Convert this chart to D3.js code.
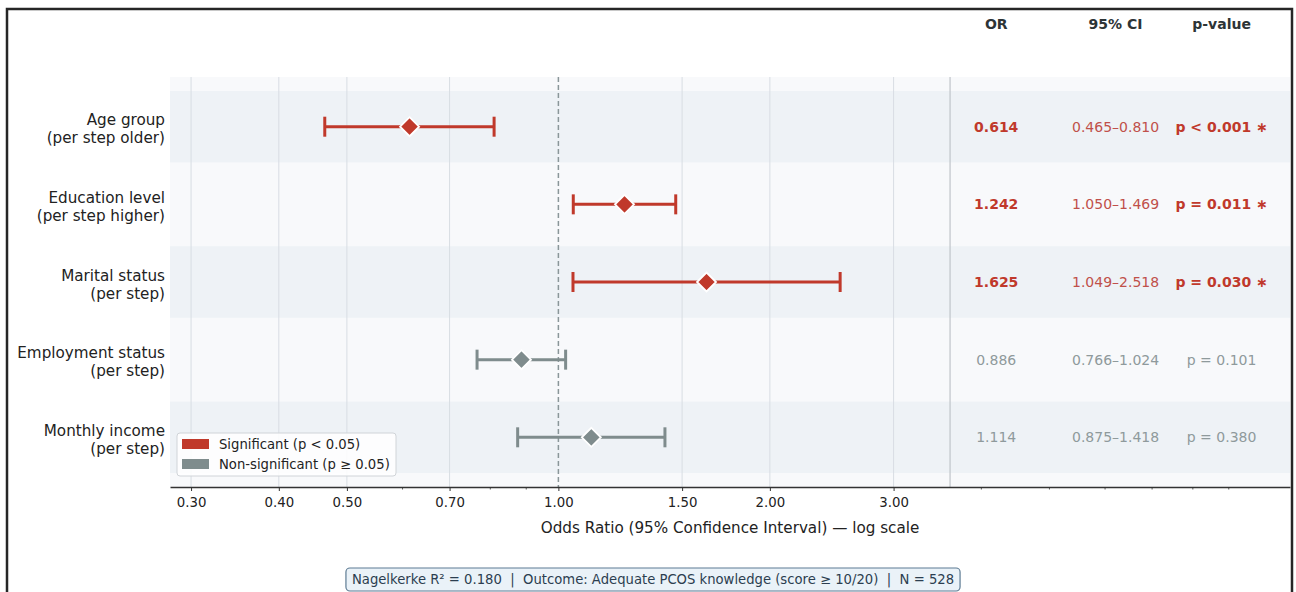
<!DOCTYPE html>
<html>
<head>
<meta charset="utf-8">
<script src="https://cdn.jsdelivr.net/npm/d3@7"></script>
<style>
  body { margin: 0; background: #fff; }
  svg { display: block; font-family: "DejaVu Sans", sans-serif; }
</style>
</head>
<body>
<svg id="chart" width="1296" height="592"></svg>
<script>
// Data
const labels = [
  ["Age group", "(per step older)"],
  ["Education level", "(per step higher)"],
  ["Marital status", "(per step)"],
  ["Employment status", "(per step)"],
  ["Monthly income", "(per step)"]
];
const oddsRatios = [0.614, 1.242, 1.625, 0.886, 1.114];
const ciLow = [0.465, 1.050, 1.049, 0.766, 0.875];
const ciHigh = [0.810, 1.469, 2.518, 1.024, 1.418];
const pValues = [0.0005, 0.011, 0.030, 0.101, 0.380];
const pText = ["p < 0.001 \u2217", "p = 0.011 \u2217", "p = 0.030 \u2217", "p = 0.101", "p = 0.380"];
const majorTicks = [0.3, 0.4, 0.5, 0.7, 1.0, 1.5, 2.0, 3.0];
const minorTicks = [0.6, 0.8, 0.9, 4, 5, 6, 7, 8, 9];
const noteText = "Nagelkerke R\u00b2 = 0.180  |  Outcome: Adequate PCOS knowledge (score \u2265 10/20)  |  N = 528";

// Colors
const sigColor = "#c0392b";
const nsColor = "#7f8c8d";
const getColor = (p) => p < 0.05 ? sigColor : nsColor;

const svg = d3.select("#chart");

// outer frame
svg.append("rect")
  .attr("x", 7).attr("y", 9)
  .attr("width", 1285).attr("height", 640)
  .attr("fill", "none")
  .attr("stroke", "#262626")
  .attr("stroke-width", 2.5);

// Scales
const x = d3.scaleLog().domain([0.28, 11]).range([170, 1290]);
const y = d3.scaleLinear().domain([-0.64, 4.64]).range([77, 487]);
const rows = d3.range(labels.length);

// table column positions (in odds-ratio units, right of the plot)
const sepAt = 3.61, colOR = 4.2, colCI = 6.21, colP = 8.79;

// axes background
svg.append("rect")
  .attr("x", x.range()[0]).attr("y", y(-0.64))
  .attr("width", x.range()[1] - x.range()[0])
  .attr("height", y(4.64) - y(-0.64))
  .attr("fill", "#f8f9fb");

// alternating row bands
svg.append("g")
  .selectAll("rect")
  .data(rows.filter(i => i % 2 === 0))
  .join("rect")
  .attr("x", x.range()[0])
  .attr("width", x.range()[1] - x.range()[0])
  .attr("y", i => y(i - 0.46))
  .attr("height", y(0.92) - y(0))
  .attr("fill", "#eef2f6");

// grid lines on major ticks
svg.append("g")
  .selectAll("line")
  .data(majorTicks.filter(t => t !== 1))
  .join("line")
  .attr("x1", d => x(d)).attr("x2", d => x(d))
  .attr("y1", y(-0.64)).attr("y2", y(4.64))
  .attr("stroke", "#d8dde3")
  .attr("stroke-width", 1);

// separator between plot and table
svg.append("line")
  .attr("x1", x(sepAt)).attr("x2", x(sepAt))
  .attr("y1", y(-0.64)).attr("y2", y(4.64))
  .attr("stroke", "#bfc4c9")
  .attr("stroke-width", 1.2);

// reference line at OR = 1
svg.append("line")
  .attr("x1", x(1)).attr("x2", x(1))
  .attr("y1", y(-0.64)).attr("y2", y(4.64))
  .attr("stroke", "#8a9699")
  .attr("stroke-width", 1.5)
  .attr("stroke-dasharray", "5,3");

// x axis
const axisY = y(4.64);
const xAxis = svg.append("g")
  .attr("transform", `translate(0,${axisY})`)
  .call(d3.axisBottom(x).tickValues(majorTicks).tickFormat(d3.format(".2f")).tickSize(4).tickSizeOuter(0));
xAxis.select(".domain").attr("stroke", "#333").attr("stroke-width", 1.3);
xAxis.selectAll(".tick line").attr("stroke", "#333");
xAxis.selectAll(".tick text")
  .attr("font-size", "13.3px")
  .attr("font-family", "DejaVu Sans")
  .attr("fill", "#222")
  .attr("dy", "0.95em");

svg.append("g")
  .selectAll("line")
  .data(minorTicks)
  .join("line")
  .attr("x1", d => x(d)).attr("x2", d => x(d))
  .attr("y1", axisY).attr("y2", axisY + 2.5)
  .attr("stroke", "#333")
  .attr("stroke-width", 0.8);

svg.append("text")
  .attr("x", (x.range()[0] + x.range()[1]) / 2)
  .attr("y", 533)
  .attr("text-anchor", "middle")
  .attr("font-size", "15.2px")
  .attr("fill", "#222")
  .text("Odds Ratio (95% Confidence Interval) \u2014 log scale");

// y labels
const yLabel = svg.append("g")
  .selectAll("text")
  .data(rows)
  .join("text")
  .attr("text-anchor", "end")
  .attr("font-size", "15.2px")
  .attr("fill", "#222");
yLabel.append("tspan")
  .attr("x", 165).attr("y", i => y(i) - 1.5)
  .text(i => labels[i][0]);
yLabel.append("tspan")
  .attr("x", 165).attr("y", i => y(i) + 16.5)
  .text(i => labels[i][1]);

// CI lines and caps
const ci = svg.append("g");
ci.selectAll("line.ci")
  .data(rows)
  .join("line")
  .attr("class", "ci")
  .attr("x1", i => x(ciLow[i])).attr("x2", i => x(ciHigh[i]))
  .attr("y1", i => y(i)).attr("y2", i => y(i))
  .attr("stroke", i => getColor(pValues[i]))
  .attr("stroke-width", 3);
ci.selectAll("line.cap")
  .data(rows.flatMap(i => [[i, ciLow[i]], [i, ciHigh[i]]]))
  .join("line")
  .attr("class", "cap")
  .attr("x1", d => x(d[1])).attr("x2", d => x(d[1]))
  .attr("y1", d => y(d[0]) - 10).attr("y2", d => y(d[0]) + 10)
  .attr("stroke", d => getColor(pValues[d[0]]))
  .attr("stroke-width", 3);

// diamonds
svg.append("g")
  .selectAll("path")
  .data(rows)
  .join("path")
  .attr("transform", i => `translate(${x(oddsRatios[i])},${y(i)})`)
  .attr("d", "M0,-9.5L9.5,0L0,9.5L-9.5,0Z")
  .attr("fill", i => getColor(pValues[i]))
  .attr("stroke", "white")
  .attr("stroke-width", 1.8);

// table headers
svg.append("g")
  .selectAll("text")
  .data([[colOR, "OR"], [colCI, "95% CI"], [colP, "p-value"]])
  .join("text")
  .attr("x", d => x(d[0]))
  .attr("y", 29)
  .attr("text-anchor", "middle")
  .attr("font-size", "14px")
  .attr("font-weight", "bold")
  .attr("fill", "#2d3436")
  .text(d => d[1]);

// table rows
const table = svg.append("g").attr("text-anchor", "middle").attr("font-size", "14px");
table.selectAll("text.or")
  .data(rows)
  .join("text")
  .attr("class", "or")
  .attr("x", x(colOR)).attr("y", i => y(i) + 5)
  .attr("font-weight", i => pValues[i] < 0.05 ? "bold" : "normal")
  .attr("fill", i => pValues[i] < 0.05 ? sigColor : "#8f9a9c")
  .text(i => oddsRatios[i].toFixed(3));
table.selectAll("text.ci")
  .data(rows)
  .join("text")
  .attr("class", "ci")
  .attr("x", x(colCI)).attr("y", i => y(i) + 5)
  .attr("fill", i => pValues[i] < 0.05 ? "#c0504a" : "#8f9a9c")
  .text(i => `${ciLow[i].toFixed(3)}\u2013${ciHigh[i].toFixed(3)}`);
table.selectAll("text.p")
  .data(rows)
  .join("text")
  .attr("class", "p")
  .attr("x", x(colP)).attr("y", i => y(i) + 5)
  .attr("font-weight", i => pValues[i] < 0.05 ? "bold" : "normal")
  .attr("fill", i => pValues[i] < 0.05 ? sigColor : "#8f9a9c")
  .text(i => pText[i]);

// legend
const legend = svg.append("g").attr("transform", "translate(177,433)");
legend.append("rect")
  .attr("width", 219).attr("height", 43)
  .attr("rx", 3)
  .attr("fill", "white").attr("fill-opacity", 0.85)
  .attr("stroke", "#d0d4d8");
const legendItems = [[sigColor, "Significant (p < 0.05)"], [nsColor, "Non-significant (p \u2265 0.05)"]];
legend.selectAll("rect.sw")
  .data(legendItems)
  .join("rect")
  .attr("class", "sw")
  .attr("x", 5).attr("y", (d, i) => 6 + i * 20)
  .attr("width", 27).attr("height", 10)
  .attr("fill", d => d[0]);
legend.selectAll("text")
  .data(legendItems)
  .join("text")
  .attr("x", 42)
  .attr("y", (d, i) => 15.5 + i * 20)
  .attr("font-size", "13.2px")
  .attr("fill", "#222")
  .text(d => d[1]);

// note box
const note = svg.append("g");
const noteLabel = note.append("text")
  .attr("x", 653).attr("y", 584)
  .attr("text-anchor", "middle")
  .attr("font-size", "13.2px")
  .attr("fill", "#2c3e50")
  .style("white-space", "pre")
  .text(noteText);
const bb = noteLabel.node().getBBox();
note.insert("rect", "text")
  .attr("x", bb.x - 6).attr("y", 568)
  .attr("width", bb.width + 12).attr("height", 23)
  .attr("rx", 4)
  .attr("fill", "#eaf2f8")
  .attr("stroke", "#5d7b93")
  .attr("stroke-width", 1.2);
</script>
</body>
</html>
